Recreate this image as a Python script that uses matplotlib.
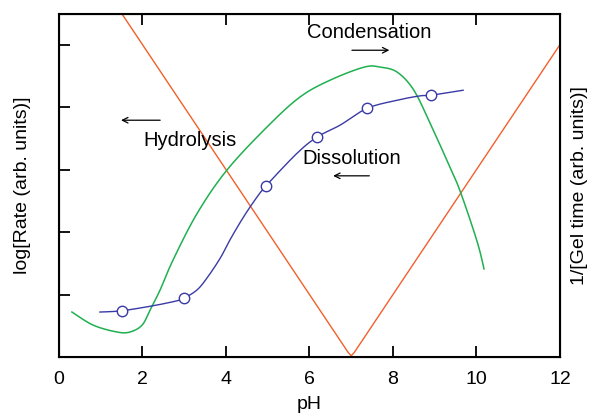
import matplotlib
matplotlib.use("Agg")
import matplotlib.pyplot as plt
import numpy as np

plt.rcParams['font.family'] = ['Liberation Sans', 'DejaVu Sans']

# Gel time (V-shape)
gel_ph = [1.5, 6.93, 7.0, 7.07, 12.0]
gel_val = [5.5, 0.07, 0.02, 0.07, 5.0]

# Green curve
green_ph = [0.31, 0.82, 1.39, 1.70, 1.99, 2.18, 2.42, 2.73, 3.31, 4.02, 4.98, 5.77,
            6.49, 7.31, 7.69, 8.10, 8.50, 8.89, 9.29, 9.60, 10.01, 10.18]
green_val = [0.72, 0.51, 0.40, 0.40, 0.51, 0.75, 1.07, 1.55, 2.30, 2.99, 3.68, 4.16,
             4.43, 4.64, 4.64, 4.56, 4.27, 3.74, 3.15, 2.67, 1.86, 1.41]

# Blue curve (line) and markers
blue_ph = [0.98, 1.50, 2.25, 2.83, 2.99, 3.30, 3.54, 3.86, 4.10, 4.40, 4.70, 4.96,
           5.70, 6.18, 6.73, 7.38, 8.10, 8.65, 8.91, 9.68]
blue_val = [0.72, 0.74, 0.82, 0.90, 0.94, 1.07, 1.26, 1.58, 1.88, 2.22, 2.52, 2.74,
            3.26, 3.52, 3.71, 3.98, 4.11, 4.18, 4.19, 4.27]
marker_ph = [1.5, 2.99, 4.96, 6.18, 7.38, 8.91]
marker_val = [0.74, 0.94, 2.74, 3.52, 3.98, 4.19]

xticks = [0, 2, 4, 6, 8, 10, 12]
yticks = [1, 2, 3, 4, 5]

RED = '#f2602c'
GREEN = '#1fb050'
BLUE = '#3a3aa6'

fig = plt.figure(figsize=(5.97, 4.18), dpi=100)
ax = fig.add_axes([0.0988, 0.1459, 0.8392, 0.8206])

def smooth(xs, ys):
    pts = np.column_stack([np.asarray(xs, float), np.asarray(ys, float)])
    P = np.vstack([pts[0], pts, pts[-1]])
    out = []
    for i in range(1, len(P) - 2):
        p0, p1, p2, p3 = P[i-1], P[i], P[i+1], P[i+2]
        t = np.linspace(0, 1, 20, endpoint=False)[:, None]
        seg = 0.5 * ((2*p1) + (-p0 + p2)*t + (2*p0 - 5*p1 + 4*p2 - p3)*t**2
                     + (-p0 + 3*p1 - 3*p2 + p3)*t**3)
        out.append(seg)
    out.append(pts[-1:])
    out = np.vstack(out)
    return out[:, 0], out[:, 1]

ax.plot(gel_ph, gel_val, color=RED, lw=1.0)
gx, gy = smooth(green_ph, green_val)
ax.plot(gx, gy, color=GREEN, lw=1.1)
bx, by = smooth(blue_ph, blue_val)
ax.plot(bx, by, color=BLUE, lw=1.0)
ax.plot(marker_ph, marker_val, linestyle='none', marker='o', ms=7.5, mfc='white',
        mec=BLUE, mew=1.0)

ax.set_xlim(0, 12)
ax.set_ylim(0, 5.49)
ax.set_xticks(xticks)
ax.set_yticks(yticks)
ax.set_yticklabels([])
ax.tick_params(direction='in', length=8, width=1.3, top=True, right=True,
               labelsize=14, pad=10)
for s in ax.spines.values():
    s.set_linewidth(1.5)

ax.set_xlabel('pH', fontsize=14, labelpad=6)
ax.set_ylabel('log[Rate (arb. units)]', fontsize=14, labelpad=10)
ax2 = ax.twinx()
ax2.set_ylim(0, 5.49)
ax2.set_yticks([])
ax2.set_ylabel('1/[Gel time (arb. units)]', fontsize=14, labelpad=8)

ax.text(7.42, 5.19, 'Condensation', fontsize=14.5, ha='center', va='center')
ax.annotate('', xy=(7.98, 4.91), xytext=(6.95, 4.91),
            arrowprops=dict(arrowstyle='->', lw=0.9, color='black'))
ax.text(3.13, 3.46, 'Hydrolysis', fontsize=14.5, ha='center', va='center')
ax.annotate('', xy=(1.42, 3.79), xytext=(2.49, 3.79),
            arrowprops=dict(arrowstyle='->', lw=0.9, color='black'))
ax.text(7.0, 3.17, 'Dissolution', fontsize=14.5, ha='center', va='center')
ax.annotate('', xy=(6.5, 2.9), xytext=(7.5, 2.9),
            arrowprops=dict(arrowstyle='->', lw=0.9, color='black'))

fig.savefig('out.png', dpi=100)
